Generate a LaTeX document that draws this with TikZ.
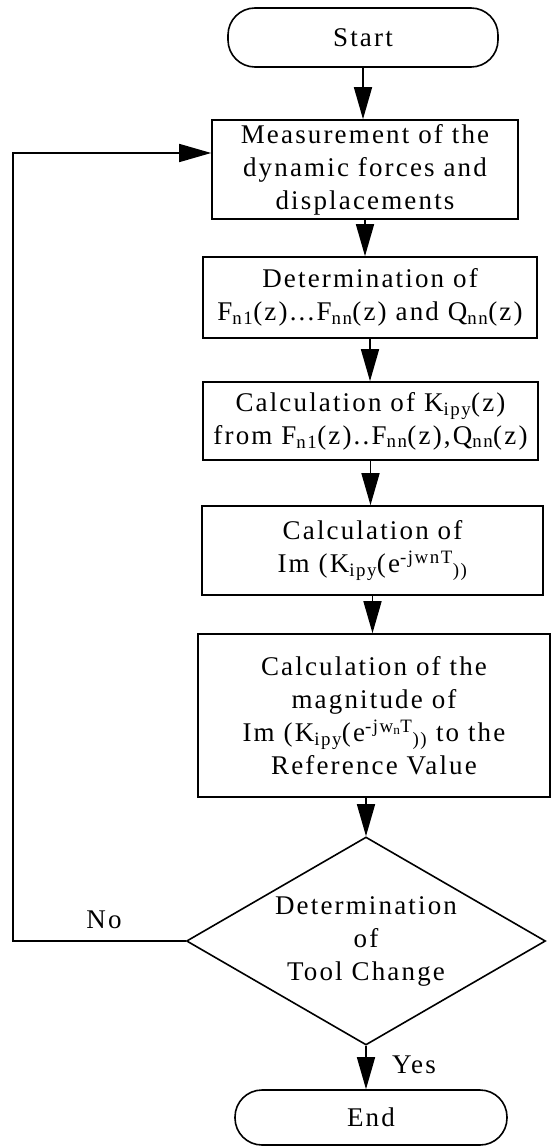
\documentclass[tikz,border=0pt]{standalone}
\usepackage{fontspec}
\setmainfont{Liberation Serif}[LetterSpace=8]
\usetikzlibrary{shapes.geometric,arrows.meta}
\newcommand{\sbs}[1]{\textsubscript{#1}}
\newcommand{\sps}[1]{\textsuperscript{#1}}
\begin{document}
\begin{tikzpicture}[x=1pt,y=-1pt,
  every node/.style={font=\fontsize{27}{33}\selectfont, align=center, inner sep=0pt},
  box/.style={draw, line width=1.6pt, rectangle},
  term/.style={draw, line width=1.6pt, rectangle, rounded corners=27pt},
  dec/.style={draw, line width=1.6pt, diamond, aspect=1.73},
  arr/.style={line width=1.6pt, -{Triangle[length=32pt,width=18pt]}}]
\useasboundingbox (0,0) rectangle (555,1148);
\node[term, minimum width=270pt, minimum height=59pt] (start) at (363,37.5) {Start};
\node[box, minimum width=306pt, minimum height=99pt] (b1) at (365,169.5)
  {Measurement of the\\dynamic forces and\\displacements};
\node[box, minimum width=334pt, minimum height=81pt] (b2) at (370,297.5)
  {Determination of\\F\sbs{n1}(z)...F\sbs{nn}(z) and Q\sbs{nn}(z)};
\node[box, minimum width=335pt, minimum height=78pt] (b3) at (370.5,421)
  {Calculation of K\sbs{ipy}(z)\\from F\sbs{n1}(z)..F\sbs{nn}(z),Q\sbs{nn}(z)};
\node[box, minimum width=341pt, minimum height=89pt] (b4) at (372.5,550.5)
  {Calculation of\\Im (K\sbs{ipy}(e\sps{-jwnT}\sbs{))}};
\node[box, minimum width=352pt, minimum height=163pt] (b5) at (374,715.5)
  {Calculation of the\\magnitude of\\Im (K\sbs{ipy}(e\sps{-jw\sbs{n}T}\sbs{))} to the\\Reference Value};
\node[dec, minimum width=359pt, minimum height=208pt] (dec) at (366,941)
  {Determination\\of\\Tool Change};
\node[term, minimum width=272pt, minimum height=55pt] (end) at (371,1117.5) {End};
\node (no) at (104,920) {No};
\node (yes) at (414,1065) {Yes};
\coordinate (c2) at (13,153);
\draw[arr] (start.south) -- (start.south |- b1.north);
\draw[arr] (b1.south) -- (b1.south |- b2.north);
\draw[arr] (b2.south) -- (b2.south |- b3.north);
\draw[arr] (b3.south) -- (b3.south |- b4.north);
\draw[arr] (b4.south) -- (b4.south |- b5.north);
\draw[arr] (dec.north |- b5.south) -- (dec.north);
\draw[arr] (dec.south) -- (dec.south |- end.north);
\draw[arr] (dec.west) -| (c2) -- (b1.west |- c2);
\end{tikzpicture}
\end{document}
